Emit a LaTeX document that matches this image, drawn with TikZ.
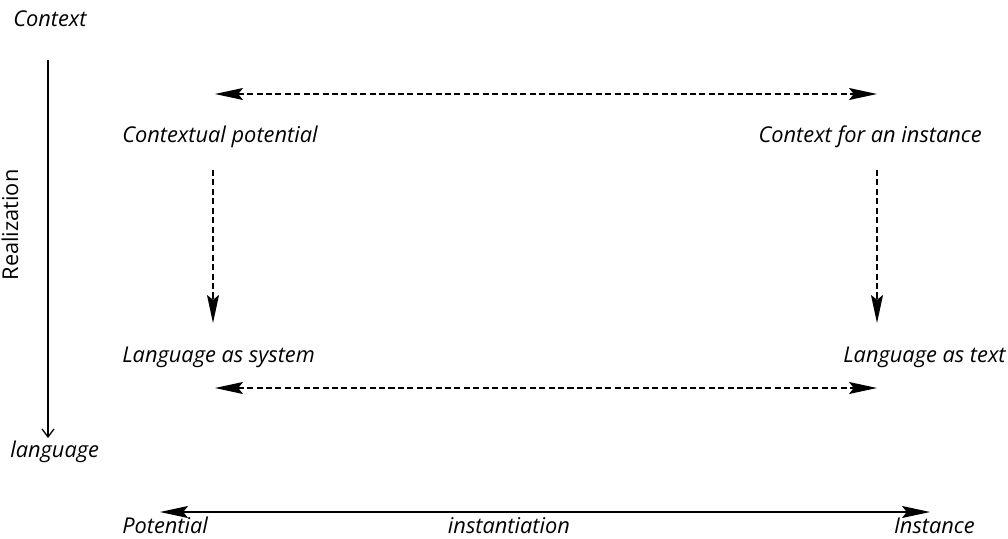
\documentclass[tikz,border=0pt]{standalone}
\usepackage{fontspec}
\setmainfont{Open Sans}
\usetikzlibrary{arrows.meta}

\tikzset{
  lbl/.style={font=\itshape\fontsize{15.5}{18}\selectfont, inner sep=0pt, anchor=base west},
  link/.style={line width=0.9pt, dash pattern=on 4.3pt off 2.4pt},
}

\begin{document}
\begin{tikzpicture}[x=0.025cm, y=-0.025cm, >={Stealth[length=0.7cm, width=0.3cm, inset=0.12cm]}]
\useasboundingbox (0,0) rectangle (1008,539);

% realization axis
\node[lbl] (ctx) at (13,26) {Context};
\node[lbl] (lang) at (10,457) {language};
\coordinate (axTop) at (48,60);
\coordinate (axBot) at (48,438);
\draw[line width=0.9pt, -{Straight Barb[length=0.2cm, width=0.3cm]}] (axTop) -- (axBot);
\node[font=\fontsize{15.5}{18}\selectfont, rotate=90, inner sep=0pt] (real) at (10,225) {Realization};

% the four corners
\node[lbl] (cp) at (122,142) {Contextual potential};
\node[lbl, anchor=base east] (ci) at (982,142) {Context for an instance};
\node[lbl] (ls) at (122,362) {Language as system};
\node[lbl, anchor=base east] (lt) at (1006,362) {Language as text};

\coordinate (cpTop) at (215,94);
\coordinate (ciTop) at (877,94);
\coordinate (cpDown) at (213,170);
\coordinate (lsUp) at (213,323);
\coordinate (ciDown) at (877,170);
\coordinate (ltUp) at (877,323);
\coordinate (lsBot) at (215,388);
\coordinate (ltBot) at (877,388);

\draw[link, <->] (cpTop) -- (ciTop);
\draw[link, ->] (cpDown) -- (lsUp);
\draw[link, ->] (ciDown) -- (ltUp);
\draw[link, <->] (lsBot) -- (ltBot);

% instantiation axis
\coordinate (potEnd) at (160,512);
\coordinate (insEnd) at (930,512);
\draw[line width=0.9pt, <->] (potEnd) -- (insEnd);
\node[lbl] (pot) at (122,533) {Potential};
\node[lbl, anchor=base] (inst) at (509,533) {instantiation};
\node[lbl, anchor=base east] (ins) at (975,533) {Instance};
\end{tikzpicture}
\end{document}
